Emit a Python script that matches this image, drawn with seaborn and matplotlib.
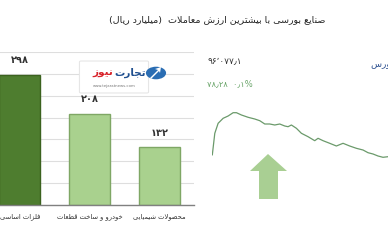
import matplotlib
matplotlib.use("Agg")
import matplotlib.pyplot as plt
import seaborn as sns
import numpy as np
import pandas as pd
from matplotlib.patches import Polygon, FancyBboxPatch, Circle

# ---------------- data ----------------
categories = ["فلزات اساسی", "خودرو و ساخت قطعات", "محصولات شیمیایی"]
values = [298, 208, 132]
value_labels = ["۲۹۸", "۲۰۸", "۱۳۲"]
title = "صنایع بورسی با بیشترین ارزش معاملات  (میلیارد ریال)"

# intraday index trace (minutes from open, relative index level)
line_minutes = [0, 3, 7, 13, 19, 25, 29, 35, 43, 51, 57, 63, 69, 75, 81, 87, 91, 95,
                101, 107, 115, 123, 127, 133, 141, 149, 157, 165, 173, 181, 187, 193,
                199, 205, 211]
line_values = [50, 71.7, 81.7, 86.7, 89, 92.3, 92.3, 90, 87.7, 86, 84.3, 81, 81, 80,
               81, 79, 78.3, 80, 76.7, 71.7, 68.3, 64.3, 66.7, 64.3, 61.7, 59, 61.7,
               59, 56.7, 55, 52.3, 51, 49, 47.7, 48.3]
index_value_text = "۹۶٬۰۷۷٫۱"
index_change_text = "۷۸٫۲۸  ۰٫۱%"
index_name = "شاخص کل بورس"
logo_a = "تجارت"
logo_b = "نیوز"
logo_url = "www.tejaratnews.com"

# ---------------- minimal Persian shaping ----------------
F = {
    'ا': (0xFE8D, 0xFE8E), 'آ': (0xFE81, 0xFE82),
    'ب': (0xFE8F, 0xFE90, 0xFE91, 0xFE92), 'پ': (0xFB56, 0xFB57, 0xFB58, 0xFB59),
    'ت': (0xFE95, 0xFE96, 0xFE97, 0xFE98), 'ث': (0xFE99, 0xFE9A, 0xFE9B, 0xFE9C),
    'ج': (0xFE9D, 0xFE9E, 0xFE9F, 0xFEA0), 'چ': (0xFB7A, 0xFB7B, 0xFB7C, 0xFB7D),
    'ح': (0xFEA1, 0xFEA2, 0xFEA3, 0xFEA4), 'خ': (0xFEA5, 0xFEA6, 0xFEA7, 0xFEA8),
    'د': (0xFEA9, 0xFEAA), 'ذ': (0xFEAB, 0xFEAC), 'ر': (0xFEAD, 0xFEAE),
    'ز': (0xFEAF, 0xFEB0), 'ژ': (0xFB8A, 0xFB8B),
    'س': (0xFEB1, 0xFEB2, 0xFEB3, 0xFEB4), 'ش': (0xFEB5, 0xFEB6, 0xFEB7, 0xFEB8),
    'ص': (0xFEB9, 0xFEBA, 0xFEBB, 0xFEBC), 'ض': (0xFEBD, 0xFEBE, 0xFEBF, 0xFEC0),
    'ط': (0xFEC1, 0xFEC2, 0xFEC3, 0xFEC4), 'ظ': (0xFEC5, 0xFEC6, 0xFEC7, 0xFEC8),
    'ع': (0xFEC9, 0xFECA, 0xFECB, 0xFECC), 'غ': (0xFECD, 0xFECE, 0xFECF, 0xFED0),
    'ف': (0xFED1, 0xFED2, 0xFED3, 0xFED4), 'ق': (0xFED5, 0xFED6, 0xFED7, 0xFED8),
    'ک': (0xFB8E, 0xFB8F, 0xFB90, 0xFB91), 'گ': (0xFB92, 0xFB93, 0xFB94, 0xFB95),
    'ل': (0xFEDD, 0xFEDE, 0xFEDF, 0xFEE0), 'م': (0xFEE1, 0xFEE2, 0xFEE3, 0xFEE4),
    'ن': (0xFEE5, 0xFEE6, 0xFEE7, 0xFEE8), 'و': (0xFEED, 0xFEEE),
    'ه': (0xFEE9, 0xFEEA, 0xFEEB, 0xFEEC), 'ی': (0xFBFC, 0xFBFD, 0xFBFE, 0xFBFF),
    'لا': (0xFEFB, 0xFEFC),
}


def shape(s):
    toks = []
    i = 0
    while i < len(s):
        if s[i] == 'ل' and i + 1 < len(s) and s[i + 1] == 'ا':
            toks.append('لا')
            i += 2
        else:
            toks.append(s[i])
            i += 1
    out = []
    for k, t in enumerate(toks):
        if t not in F:
            out.append(t)
            continue
        forms = F[t]
        prev = k > 0 and toks[k - 1] in F and len(F[toks[k - 1]]) == 4
        nxt = len(forms) == 4 and k + 1 < len(toks) and toks[k + 1] in F
        if prev and nxt:
            c = forms[3]
        elif nxt:
            c = forms[2]
        elif prev:
            c = forms[1]
        else:
            c = forms[0]
        out.append(chr(c))
    r = ''.join(reversed(out))
    return r.translate(str.maketrans('()', ')('))


# ---------------- figure ----------------
sns.set_theme(style="white")
plt.rcParams['font.family'] = ['DejaVu Sans']
W, H = 388, 242
fig = plt.figure(figsize=(W / 100, H / 100), dpi=100)
fig.patch.set_facecolor("white")


def fx(x):
    return x / W


def fy(y):
    return 1 - y / H


# bar chart axes
ax = fig.add_axes([fx(-15), fy(205), fx(209), (205 - 52) / H])
df = pd.DataFrame({"cat": [shape(c) for c in categories], "val": values})
colors = ["#4e7d2f", "#a9d18e", "#a9d18e"]
edges = ["#3b621f", "#7fa765", "#7fa765"]
sns.barplot(data=df, x="cat", y="val", hue="cat", palette=colors, legend=False,
            width=0.59, ax=ax, saturation=1)
for p, e in zip(ax.patches, edges):
    p.set_edgecolor(e)
    p.set_linewidth(1.0)
ax.set_ylim(0, 350)
ax.set_xlim(-0.5, 2.5)
ax.set_yticks(np.arange(0, 351, 50))
ax.yaxis.grid(True, color="#dedede", lw=0.8)
ax.set_axisbelow(True)
ax.set_yticklabels([])
ax.tick_params(axis='y', length=0)
ax.tick_params(axis='x', length=0, labelsize=4.9, labelcolor="#333333", pad=6)
ax.set_xlabel("")
ax.set_ylabel("")
for s in ["left", "right", "top"]:
    ax.spines[s].set_visible(False)
ax.spines["bottom"].set_color("#808080")
ax.spines["bottom"].set_linewidth(1.0)
for i, (v, lab) in enumerate(zip(values, value_labels)):
    ax.annotate(lab, (i, v), xytext=(0, 7), textcoords="offset points",
                ha="center", va="bottom", fontsize=7, fontweight="bold", color="#333333")

# title
fig.text(fx(217), fy(20), shape(title), ha="center", va="center", fontsize=6.8, color="#222222")

# logo
fig.patches.append(FancyBboxPatch((fx(81), fy(92)), fx(66), (92 - 62) / H,
                                  boxstyle="round,pad=0.004", transform=fig.transFigure,
                                  facecolor="white", edgecolor="#e6e6e6", lw=0.8))
fig.patches.append(Circle((fx(156), fy(73)), 0.026, transform=fig.transFigure,
                          facecolor="#2a6db3", edgecolor="none"))
fig.patches.append(Polygon([(fx(150), fy(78)), (fx(158), fy(70)), (fx(155), fy(69)),
                            (fx(161), fy(67)), (fx(160), fy(73)), (fx(159), fy(71)),
                            (fx(151), fy(79))], closed=True, transform=fig.transFigure,
                           facecolor="white", edgecolor="none"))
fig.text(fx(146), fy(73), shape(logo_a), ha="right", va="center", fontsize=7.5,
         fontweight="bold", color="#1f4f8f")
fig.text(fx(113), fy(73), shape(logo_b), ha="right", va="center", fontsize=7.5,
         fontweight="bold", color="#d8222a")
fig.text(fx(114), fy(86), logo_url, ha="center", va="center", fontsize=2.8, color="#777777")

# right-side index chart
ax2 = fig.add_axes([fx(212.3), fy(205), fx(388 - 212.3), (205 - 52) / H])
sns.lineplot(x=line_minutes, y=line_values, ax=ax2, color="#6b9a6b", lw=0.9)
ax2.set_xlim(0, 211)
ax2.set_ylim(0, 153)
ax2.axis("off")

fig.text(fx(207), fy(61), index_value_text, ha="left", va="center", fontsize=6.5, color="#333333")
fig.text(fx(207), fy(84), index_change_text, ha="left", va="center", fontsize=6,
         color="#6aa56a")
fig.text(fx(371), fy(64), shape(index_name), ha="left", va="center", fontsize=6.5,
         color="#2b4f8f")

# up arrow
fig.patches.append(Polygon([(fx(268), fy(154)), (fx(287), fy(171)), (fx(278), fy(171)),
                            (fx(278), fy(199)), (fx(259), fy(199)), (fx(259), fy(171)),
                            (fx(250), fy(171))], closed=True, transform=fig.transFigure,
                           facecolor="#a9cf93", edgecolor="none"))

fig.savefig("out.png", dpi=100)
